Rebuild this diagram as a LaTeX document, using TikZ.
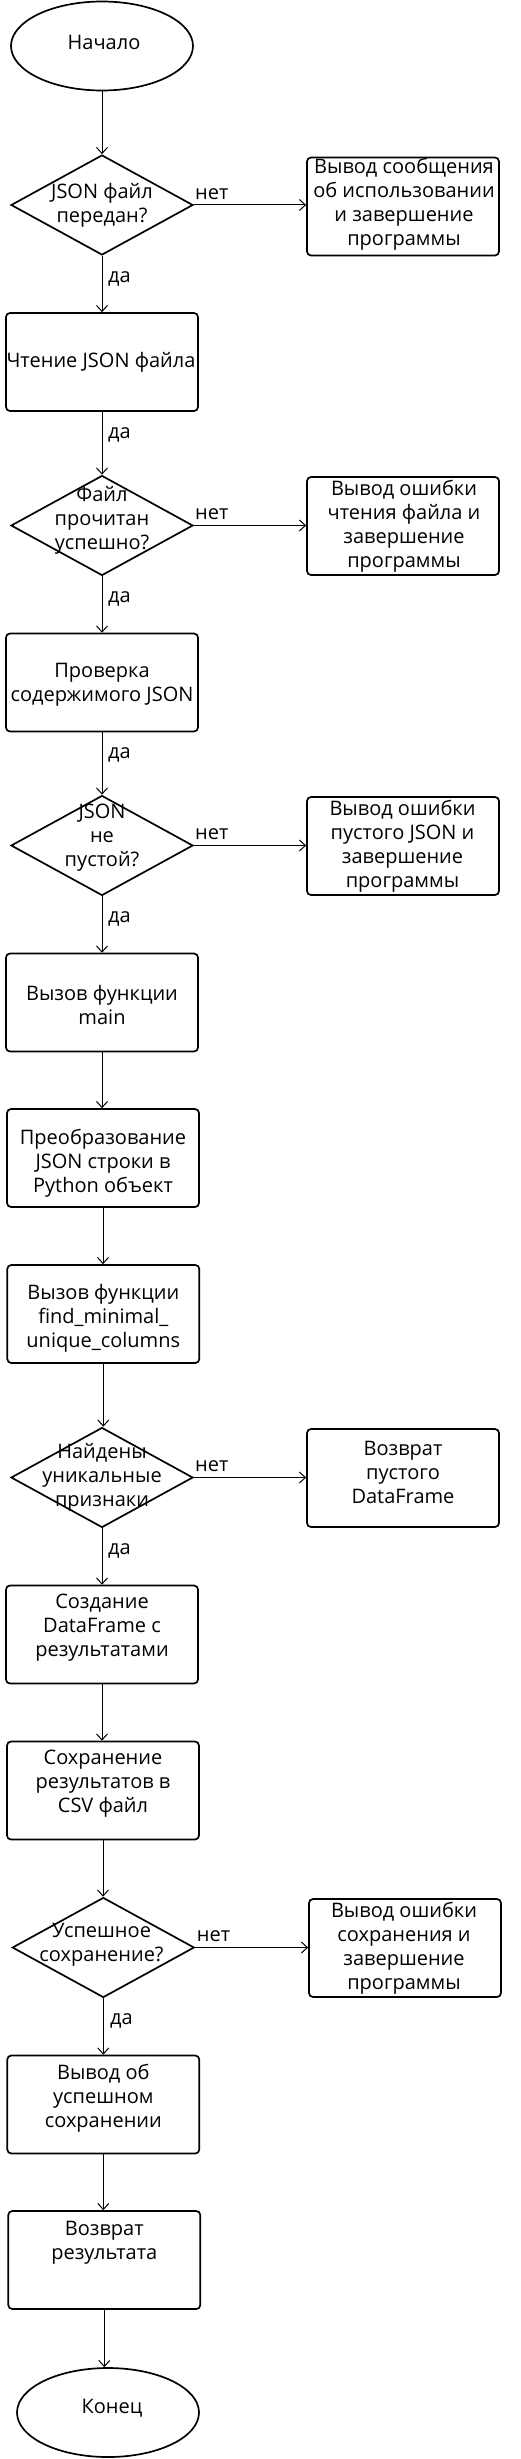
\documentclass[tikz,border=0pt]{standalone}
\usepackage{fontspec}
\setmainfont{Open Sans}
\usetikzlibrary{shapes.geometric,arrows.meta}
\begin{document}
\begin{tikzpicture}[x=1pt,y=-1pt,
  box/.style={draw, line width=1.7pt, rounded corners=4pt, minimum width=192pt, minimum height=98pt, inner sep=0pt},
  dec/.style={draw, line width=1.7pt, diamond, minimum width=182pt, minimum height=100pt, inner sep=0pt},
  term/.style={draw, line width=1.7pt, ellipse, minimum width=182pt, minimum height=89pt, inner sep=0pt},
  txt/.style={align=center, inner sep=0pt, font=\fontsize{20}{24}\selectfont},
  lbl/.style={inner sep=0pt, anchor=base west, font=\fontsize{20}{24}\selectfont},
  arr/.style={-{Straight Barb[length=6pt,width=11pt]}, line width=1pt}
]
\useasboundingbox (0,0) rectangle (521,2459);
% shapes
\node[term] (start) at (102,46) {};
\node[dec]  (d1) at (102,205) {};
\node[box]  (r1) at (403,206.5) {};
\node[box]  (b1) at (102,362) {};
\node[dec]  (d2) at (102,525.5) {};
\node[box]  (r2) at (403,526) {};
\node[box]  (b2) at (102,682.5) {};
\node[dec]  (d3) at (102,845.5) {};
\node[box]  (r3) at (403,846) {};
\node[box]  (b3) at (102,1002.5) {};
\node[box]  (b4) at (103,1158) {};
\node[box]  (b5) at (103.3,1314) {};
\node[dec]  (d4) at (102,1477.5) {};
\node[box]  (r4) at (403,1478) {};
\node[box]  (b6) at (102,1634.5) {};
\node[box]  (b7) at (103,1790.5) {};
\node[dec]  (d5) at (103.3,1947.5) {};
\node[box]  (r5) at (405,1948) {};
\node[box]  (b8) at (103.3,2104.5) {};
\node[box]  (b9) at (104.3,2260) {};
\node[term] (end) at (108,2412.5) {};
% texts
\node[txt] (tstart) at (104,42) {Начало};
\node[txt] (td1) at (102,205) {JSON файл\\передан?};
\node[txt] (tr1) at (404,204.5) {Вывод сообщения\\об использовании\\и завершение\\программы};
\node[txt] (tb1) at (101,362) {Чтение JSON файла};
\node[txt] (td2) at (102,520) {Файл\\прочитан\\успешно?};
\node[txt] (tr2) at (404,526.3) {Вывод ошибки\\чтения файла и\\завершение\\программы};
\node[txt] (tb2) at (102,684.7) {Проверка\\содержимого JSON};
\node[txt] (td3) at (102,838) {JSON\\не\\пустой?};
\node[txt] (tr3) at (402.5,846) {Вывод ошибки\\пустого JSON и\\завершение\\программы};
\node[txt] (tb3) at (102,1005) {Вызов функции\\main};
\node[txt] (tb4) at (103,1163) {Преобразование\\JSON строки в\\Python объект};
\node[txt] (tb5) at (103.3,1318.7) {Вызов функции\\find\_minimal\_\\unique\_columns};
\node[txt] (td4) at (102,1477) {Найдены\\уникальные\\признаки};
\node[txt] (tr4) at (403,1472) {Возврат\\пустого\\DataFrame};
\node[txt] (tb6) at (102,1628) {Создание\\DataFrame с\\результатами};
\node[txt] (tb7) at (103,1784) {Сохранение\\результатов в\\CSV файл};
\node[txt] (td5) at (101.5,1945) {Успешное\\сохранение?};
\node[txt] (tr5) at (404,1948) {Вывод ошибки\\сохранения и\\завершение\\программы};
\node[txt] (tb8) at (103.3,2098.3) {Вывод об\\успешном\\сохранении};
\node[txt] (tb9) at (104.3,2242.5) {Возврат\\результата};
\node[txt] (tend) at (112,2408) {Конец};
% labels
\node[lbl] (n1) at (195,199.3) {нет};
\node[lbl] (n2) at (195,519.3) {нет};
\node[lbl] (n3) at (195,839.3) {нет};
\node[lbl] (n4) at (195,1471.7) {нет};
\node[lbl] (n5) at (196.7,1941.7) {нет};
\node[lbl] (y1) at (108,282.7) {да};
\node[lbl] (y2) at (108,438.3) {да};
\node[lbl] (y3) at (108,602.7) {да};
\node[lbl] (y4) at (108,758.3) {да};
\node[lbl] (y5) at (108,922.7) {да};
\node[lbl] (y6) at (108,1554.3) {да};
\node[lbl] (y7) at (110,2024.3) {да};
% connectors
\draw[arr] (start.south) -- (start.south |- d1.north);
\draw[arr] (d1.east) -- (r1.west |- d1.east);
\draw[arr] (d1.south) -- (d1.south |- b1.north);
\draw[arr] (b1.south) -- (b1.south |- d2.north);
\draw[arr] (d2.east) -- (r2.west |- d2.east);
\draw[arr] (d2.south) -- (d2.south |- b2.north);
\draw[arr] (b2.south) -- (b2.south |- d3.north);
\draw[arr] (d3.east) -- (r3.west |- d3.east);
\draw[arr] (d3.south) -- (d3.south |- b3.north);
\draw[arr] (b3.south) -- (b3.south |- b4.north);
\draw[arr] (b4.south) -- (b4.south |- b5.north);
\draw[arr] (b5.south) -- (b5.south |- d4.north);
\draw[arr] (d4.east) -- (r4.west |- d4.east);
\draw[arr] (d4.south) -- (d4.south |- b6.north);
\draw[arr] (b6.south) -- (b6.south |- b7.north);
\draw[arr] (b7.south) -- (b7.south |- d5.north);
\draw[arr] (d5.east) -- (r5.west |- d5.east);
\draw[arr] (d5.south) -- (d5.south |- b8.north);
\draw[arr] (b8.south) -- (b8.south |- b9.north);
\draw[arr] (b9.south) -- (b9.south |- end.north);
\end{tikzpicture}
\end{document}
